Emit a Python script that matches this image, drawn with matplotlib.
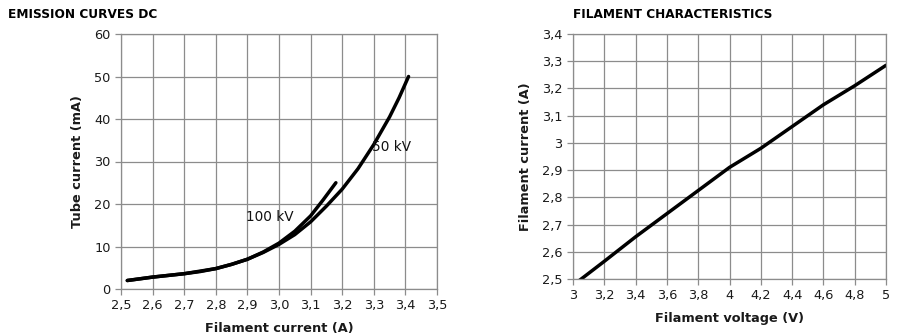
import matplotlib
matplotlib.use("Agg")
import matplotlib.pyplot as plt
import numpy as np
from matplotlib.ticker import FuncFormatter

# Emission curves data
i50_x = [2.52, 2.56, 2.6, 2.65, 2.7, 2.75, 2.8, 2.85, 2.9, 2.95, 3.0, 3.05, 3.1, 3.15, 3.2, 3.25, 3.3, 3.35, 3.38, 3.41]
i50_y = [2.0, 2.4, 2.8, 3.2, 3.6, 4.1, 4.8, 5.8, 7.0, 8.6, 10.5, 12.8, 15.8, 19.5, 23.5, 28.3, 34.0, 40.5, 45.0, 50.0]
i100_x = [2.52, 2.6, 2.7, 2.8, 2.85, 2.9, 2.95, 3.0, 3.05, 3.1, 3.14, 3.18]
i100_y = [2.0, 2.8, 3.6, 4.8, 5.8, 7.0, 8.7, 10.8, 13.6, 17.2, 21.0, 25.0]

# Filament characteristics data
fv = [3.03, 3.2, 3.4, 3.6, 3.8, 4.0, 4.2, 4.4, 4.6, 4.8, 5.0]
fi = [2.49, 2.565, 2.655, 2.74, 2.825, 2.91, 2.98, 3.06, 3.14, 3.21, 3.285]

left_xticks = [2.5, 2.6, 2.7, 2.8, 2.9, 3.0, 3.1, 3.2, 3.3, 3.4, 3.5]
left_yticks = [0, 10, 20, 30, 40, 50, 60]
right_xticks = [3, 3.2, 3.4, 3.6, 3.8, 4, 4.2, 4.4, 4.6, 4.8, 5]
right_yticks = [2.5, 2.6, 2.7, 2.8, 2.9, 3.0, 3.1, 3.2, 3.3, 3.4]

plt.rcParams['font.family'] = ['DejaVu Sans']
fig = plt.figure(figsize=(8.98, 3.35), dpi=100)
W, H = 898, 335

def ax_at(x0, x1, y0, y1):
    return fig.add_axes([x0 / W, 1 - y1 / H, (x1 - x0) / W, (y1 - y0) / H])

grid_c = '#8c8c8c'
tick_fs = 9.3

def style(ax):
    ax.grid(True, color=grid_c, lw=0.9)
    ax.set_axisbelow(True)
    for s in ax.spines.values():
        s.set_color(grid_c)
        s.set_linewidth(0.9)
    ax.tick_params(axis='both', colors=grid_c, labelcolor='#1a1a1a', labelsize=tick_fs, length=4, width=0.9)

comma = lambda fmt: FuncFormatter(lambda v, p: (fmt % v).replace('.', ','))

# Left chart
ax1 = ax_at(121, 437, 34, 289)
ax1.plot(i50_x, i50_y, color='black', lw=2.5, solid_capstyle='round', solid_joinstyle='round')
ax1.plot(i100_x, i100_y, color='black', lw=2.5, solid_capstyle='round', solid_joinstyle='round')
ax1.set_xlim(2.5, 3.5)
ax1.set_ylim(0, 60)
ax1.set_xticks(left_xticks)
ax1.set_yticks(left_yticks)
ax1.xaxis.set_major_formatter(comma('%.1f'))
ax1.yaxis.set_major_formatter(FuncFormatter(lambda v, p: '%d' % v))
style(ax1)
ax1.set_ylabel('Tube current (mA)', fontsize=9.3, fontweight='bold', color='#1a1a1a', labelpad=7)
ax1.set_xlabel('Filament current (A)', fontsize=9.3, fontweight='bold', color='#1a1a1a', labelpad=7)
ax1.text(2.895, 17, '100 kV', fontsize=9.8, va='center', ha='left', color='#111111')
ax1.text(3.295, 33.5, '50 kV', fontsize=9.8, va='center', ha='left', color='#111111')
fig.text(8 / W, 1 - 14 / H, 'EMISSION CURVES DC', fontsize=8.7, fontweight='bold', va='center', ha='left')

# Right chart
ax2 = ax_at(573, 886, 34, 279)
ax2.plot(fv, fi, color='black', lw=2.5, solid_capstyle='round', solid_joinstyle='round')
ax2.set_xlim(3, 5)
ax2.set_ylim(2.5, 3.4)
ax2.set_xticks(right_xticks)
ax2.set_yticks(right_yticks)
fmt_g = FuncFormatter(lambda v, p: ('%g' % round(v, 2)).replace('.', ','))
ax2.xaxis.set_major_formatter(fmt_g)
ax2.yaxis.set_major_formatter(fmt_g)
style(ax2)
ax2.set_ylabel('Filament current (A)', fontsize=9.3, fontweight='bold', color='#1a1a1a', labelpad=7)
ax2.set_xlabel('Filament voltage (V)', fontsize=9.3, fontweight='bold', color='#1a1a1a', labelpad=7)
fig.text(573 / W, 1 - 14 / H, 'FILAMENT CHARACTERISTICS', fontsize=8.7, fontweight='bold', va='center', ha='left')

fig.savefig('out.png', dpi=100)
